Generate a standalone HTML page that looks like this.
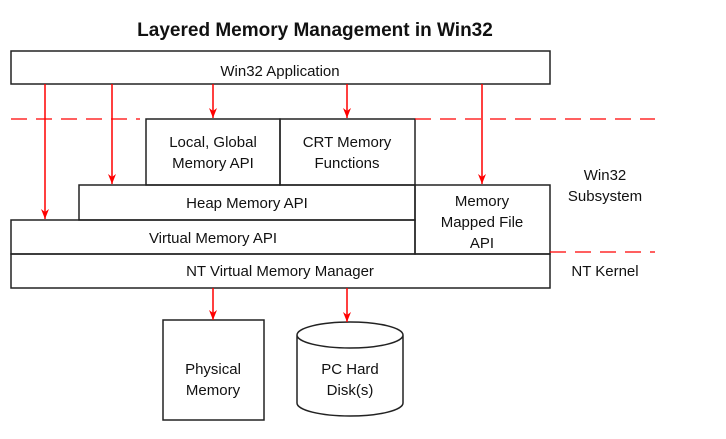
<!DOCTYPE html>
<html><head><meta charset="utf-8"><style>
html,body{margin:0;padding:0;background:#fff;}
svg{display:block;}
text{font-family:"Liberation Sans",sans-serif;font-size:15px;fill:#111;text-anchor:middle;}
</style></head><body>
<svg width="726" height="439" viewBox="0 0 726 439" xmlns="http://www.w3.org/2000/svg">
<defs><marker id="a" markerWidth="10" markerHeight="8" refX="10" refY="4" orient="auto" markerUnits="userSpaceOnUse" viewBox="0 0 10 8"><path d="M0,0 L3,4 L0,8 L10,4 Z" fill="#f00"/></marker></defs>
<text x="315" y="36" style="font-size:19px;font-weight:bold">Layered Memory Management in Win32</text>
<g fill="none" stroke="#222" stroke-width="1.5">
<rect x="11" y="51" width="539" height="33" fill="#fff"/>
<rect x="146" y="119" width="134" height="66"/>
<rect x="280" y="119" width="135" height="66"/>
<rect x="79" y="185" width="336" height="35"/>
<rect x="11" y="220" width="404" height="34"/>
<rect x="415" y="185" width="135" height="69"/>
<rect x="11" y="254" width="539" height="34"/>
<rect x="163" y="320" width="101" height="100"/>
<path d="M297,335 A53,13 0 0 1 403,335 A53,13 0 0 1 297,335 M297,335 L297,403 A53,13 0 0 0 403,403 L403,335"/>
</g>
<g stroke="#f00" stroke-width="1.3" stroke-dasharray="16,9" fill="none">
<line x1="11" y1="119" x2="140" y2="119"/>
<line x1="415" y1="119" x2="655" y2="119"/>
<line x1="550" y1="252" x2="655" y2="252"/>
</g>
<g stroke="#f00" stroke-width="1.5" marker-end="url(#a)">
<line x1="45" y1="84" x2="45" y2="219"/>
<line x1="112" y1="84" x2="112" y2="184"/>
<line x1="213" y1="84" x2="213" y2="118"/>
<line x1="347" y1="84" x2="347" y2="118"/>
<line x1="482" y1="84" x2="482" y2="184"/>
<line x1="213" y1="288" x2="213" y2="320"/>
<line x1="347" y1="288" x2="347" y2="322"/>
</g>
<text x="280" y="76">Win32 Application</text>
<text x="213" y="147">Local, Global</text>
<text x="213" y="168">Memory API</text>
<text x="347" y="147">CRT Memory</text>
<text x="347" y="168">Functions</text>
<text x="247" y="208">Heap Memory API</text>
<text x="213" y="243">Virtual Memory API</text>
<text x="482" y="206">Memory</text>
<text x="482" y="227">Mapped File</text>
<text x="482" y="248">API</text>
<text x="280" y="276">NT Virtual Memory Manager</text>
<text x="605" y="180">Win32</text>
<text x="605" y="201">Subsystem</text>
<text x="605" y="276">NT Kernel</text>
<text x="213" y="374">Physical</text>
<text x="213" y="395">Memory</text>
<text x="350" y="374">PC Hard</text>
<text x="350" y="395">Disk(s)</text>
</svg>
</body></html>
